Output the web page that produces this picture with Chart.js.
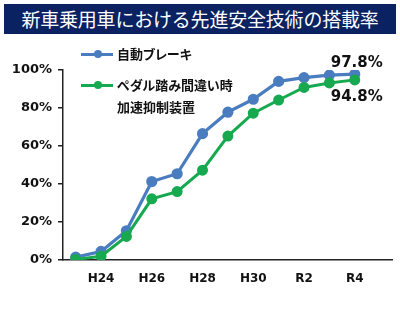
<!DOCTYPE html>
<html lang="ja">
<head>
<meta charset="UTF-8">
<title>新車乗用車における先進安全技術の搭載率</title>
<script src="https://cdn.jsdelivr.net/npm/chart.js"></script>
<style>
  html, body { margin: 0; padding: 0; background: #fff; }
  #wrap { position: relative; width: 400px; height: 336px; overflow: hidden; }
  #title {
    position: absolute; left: 4px; top: 4px; width: 392px; height: 30px;
    background: #0b2262; color: #fff; text-align: center;
    font: 19px/30px "Noto Sans CJK JP", sans-serif; letter-spacing: -0.2px;
  }
  canvas { position: absolute; left: 0; top: 0; }
  .leg { position: absolute; left: 81px; font: bold 13px "Noto Sans CJK JP", sans-serif;
    font-feature-settings: "palt"; color: #111; line-height: 22px; }
  .leg .ln { position: absolute; left: 0; width: 32px; height: 3px; }
  .leg .dot { position: absolute; left: 13px; width: 8px; height: 8px; border-radius: 50%; }
  .leg .tx { position: absolute; left: 36px; white-space: nowrap; }
</style>
</head>
<body>
<div id="wrap">
  <canvas id="c" width="400" height="336"></canvas>
  <div id="title">新車乗用車における先進安全技術の搭載率</div>
  <div class="leg" style="top:43px">
    <div class="ln" style="top:10px;background:#4a7dbf"></div>
    <div class="dot" style="top:7px;background:#4a7dbf"></div>
    <div class="tx">自動ブレーキ</div>
  </div>
  <div class="leg" style="top:74px">
    <div class="ln" style="top:10px;background:#17a94f"></div>
    <div class="dot" style="top:7px;background:#17a94f"></div>
    <div class="tx">ペダル踏み間違い時<br>加速抑制装置</div>
  </div>
</div>
<script>
  const years = ['H23', 'H24', 'H25', 'H26', 'H27', 'H28', 'H29', 'H30', 'R1', 'R2', 'R3', 'R4', ''];
  const brake = [1.5, 4.5, 15.4, 41.3, 45.4, 66.5, 77.8, 84.6, 94.0, 96.0, 97.3, 97.8, null];
  const pedal = [0.3, 2.0, 12.4, 32.2, 36.0, 47.3, 65.2, 77.3, 84.2, 90.8, 93.2, 94.8, null];
  const yTicks = [0, 20, 40, 60, 80, 100];

  const BLUE = '#4a7dbf';
  const GREEN = '#17a94f';
  const numFont = { family: 'DejaVu Sans', weight: 'bold' };

  const lastLabels = {
    id: 'lastLabels',
    afterDatasetsDraw(chart) {
      const ctx = chart.ctx;
      ctx.save();
      ctx.font = 'bold 15px "DejaVu Sans"';
      ctx.fillStyle = '#111';
      ctx.textAlign = 'center';
      ctx.textBaseline = 'middle';
      chart.data.datasets.forEach((ds, i) => {
        const meta = chart.getDatasetMeta(i);
        let k = ds.data.length - 1;
        while (k >= 0 && ds.data[k] == null) k--;
        const pt = meta.data[k];
        ctx.fillText(ds.data[k].toFixed(1) + '%', pt.x + 2, pt.y + ds.labelOffset);
      });
      ctx.restore();
    }
  };

  new Chart(document.getElementById('c'), {
    type: 'line',
    data: {
      labels: years,
      datasets: [
        { label: 'ペダル踏み間違い時加速抑制装置', data: pedal, borderColor: GREEN, backgroundColor: GREEN,
          borderWidth: 3, pointRadius: 4, order: 0, labelOffset: 17 },
        { label: '自動ブレーキ', data: brake, borderColor: BLUE, backgroundColor: BLUE,
          borderWidth: 3.2, pointRadius: 4, order: 1, labelOffset: -11 }
      ]
    },
    options: {
      responsive: false,
      animation: false,
      layout: { padding: { top: 70, right: 7, left: 0, bottom: 0 } },
      plugins: { legend: { display: false }, tooltip: { enabled: false } },
      scales: {
        x: {
          offset: true,
          grid: { display: true, drawOnChartArea: false, drawTicks: false },
          border: { color: '#222', width: 1.5 },
          ticks: {
            autoSkip: false, maxRotation: 0, padding: 12, color: '#111',
            font: { ...numFont, size: 12 },
            callback: (v, i) => (i % 2 === 1 ? years[i] : '')
          },
          afterFit: s => { s.height = 76; }
        },
        y: {
          min: 0, max: 100,
          afterBuildTicks: s => { s.ticks = yTicks.map(v => ({ value: v })); },
          grid: { display: true, drawOnChartArea: false, tickLength: 5, color: '#222', lineWidth: 1.5 },
          border: { color: '#222', width: 1.5 },
          ticks: { padding: 6, color: '#111', font: { ...numFont, size: 13 }, callback: v => v + '%' },
          afterFit: s => { s.width = 63; }
        }
      }
    },
    plugins: [lastLabels]
  });
</script>
</body>
</html>
